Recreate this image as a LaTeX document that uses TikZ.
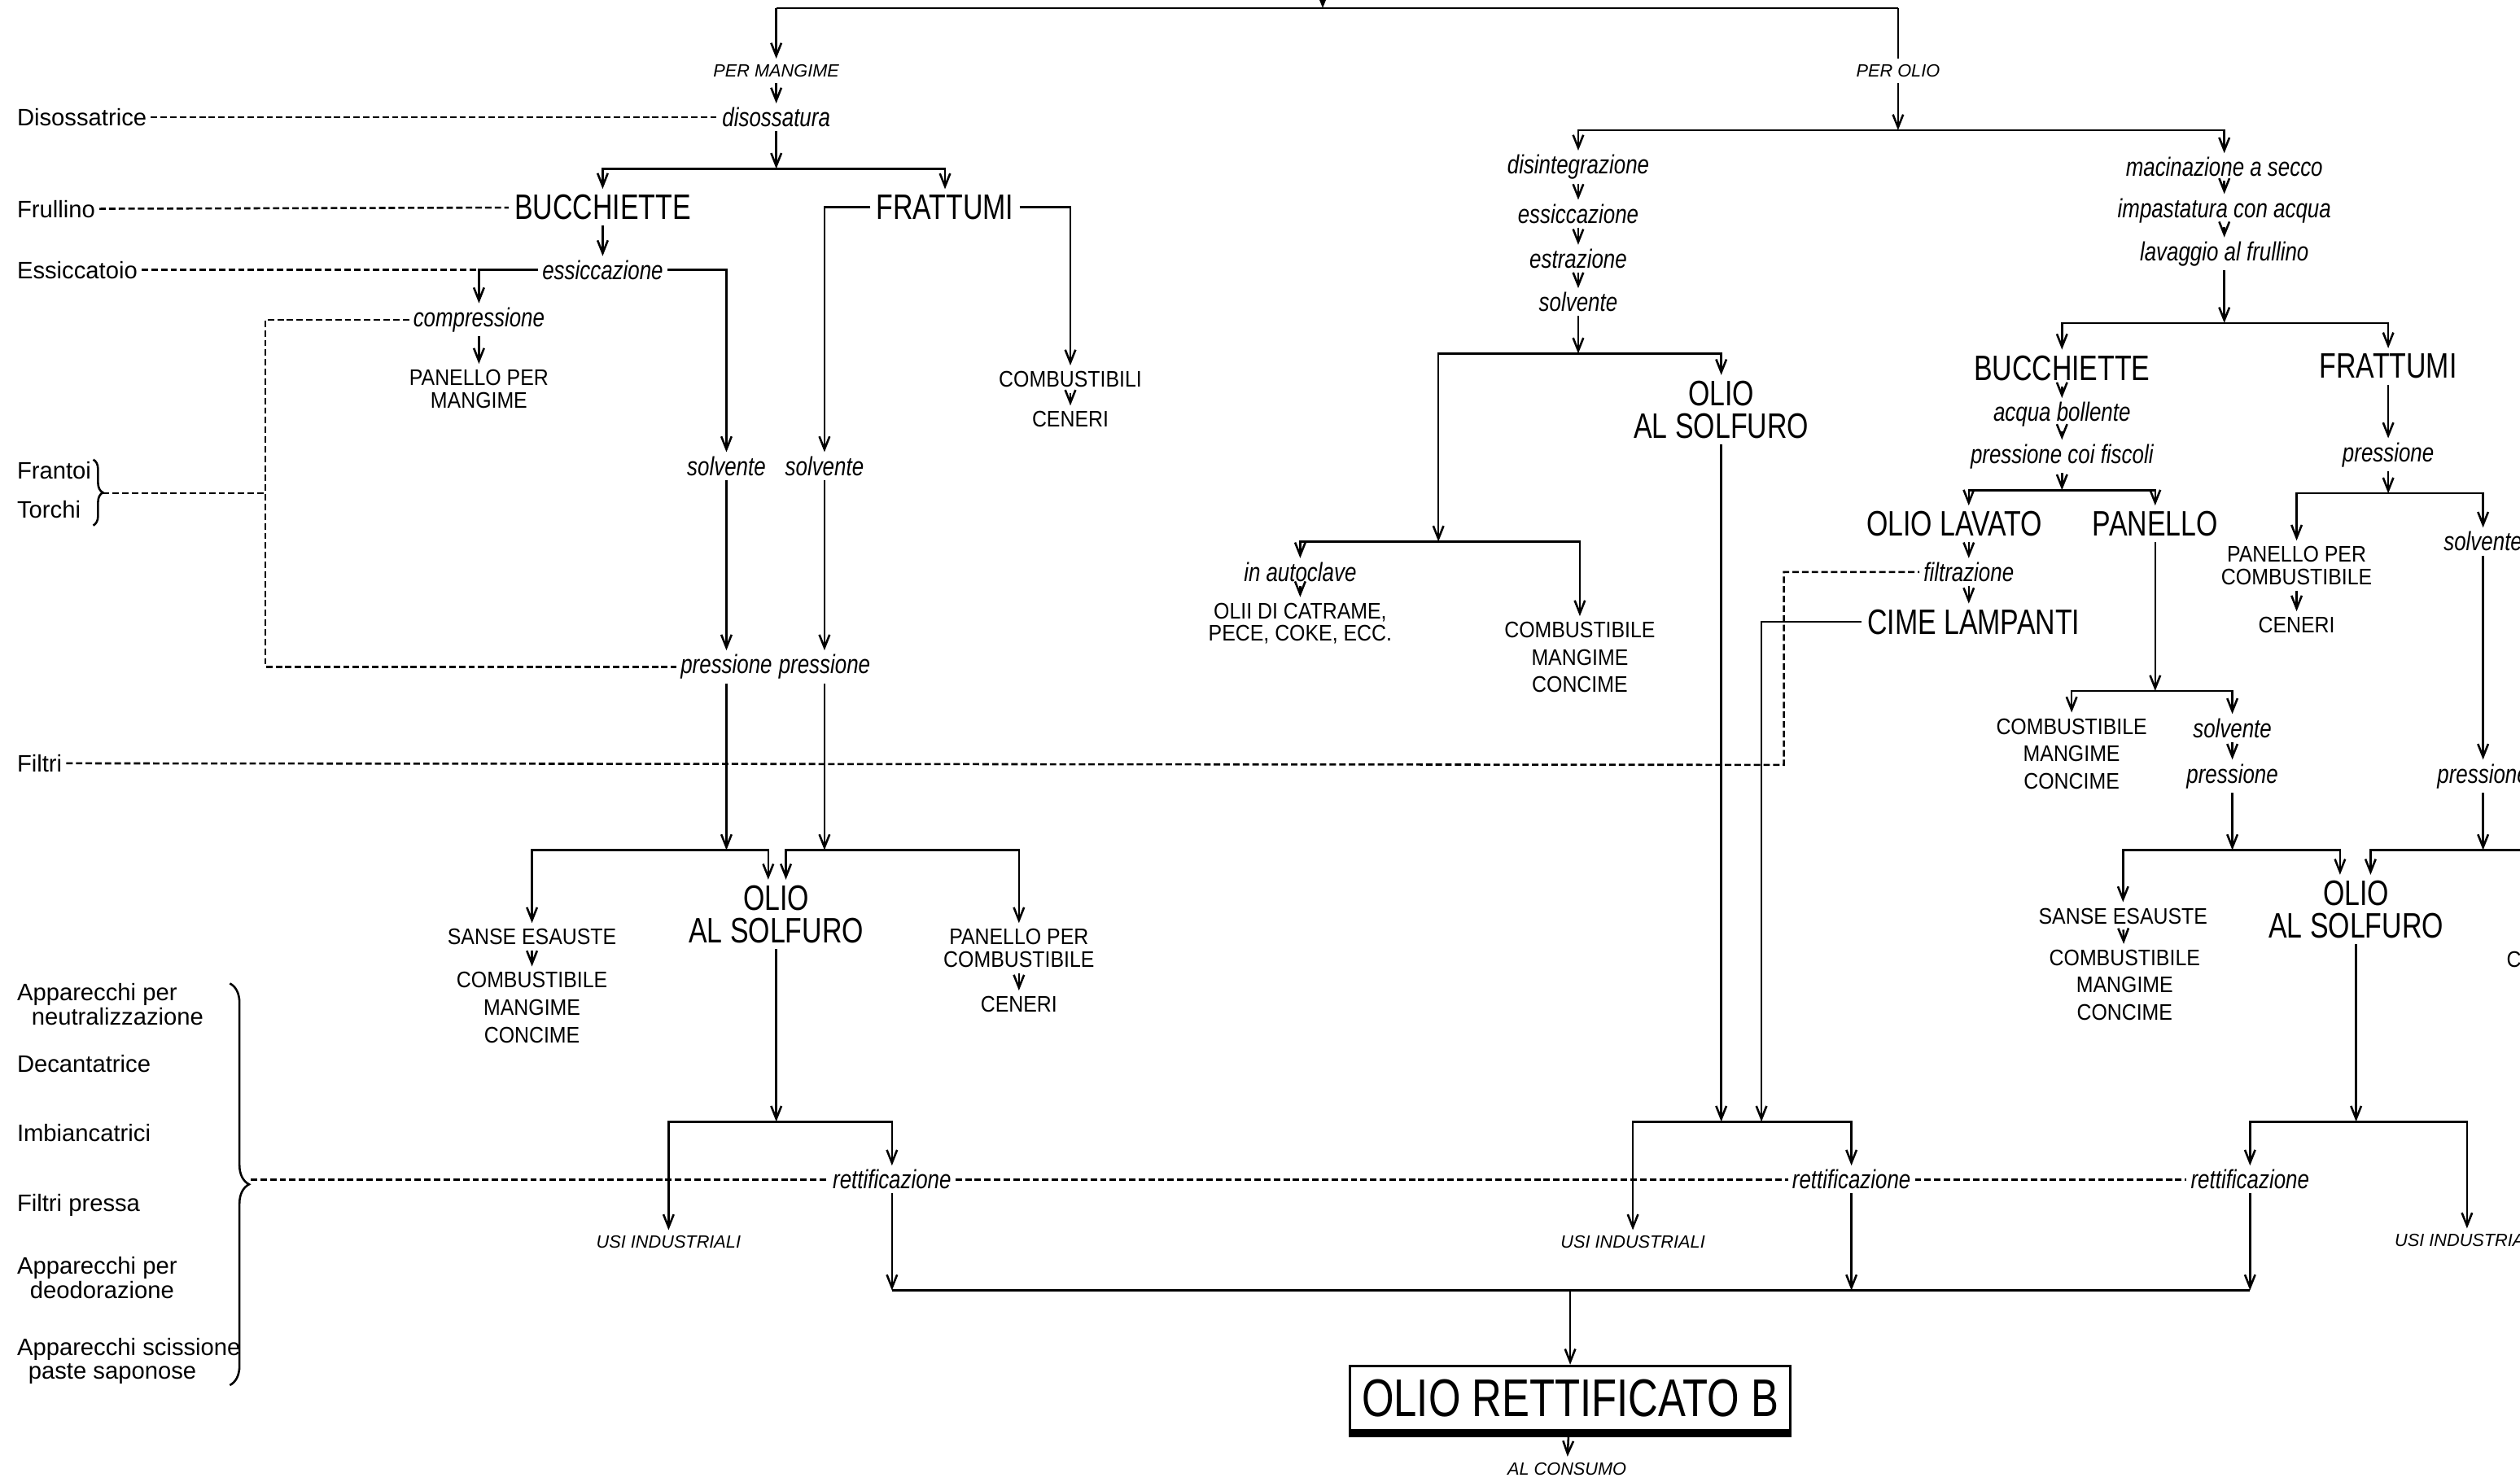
\documentclass[tikz,border=0pt]{standalone}
\usepackage{fontspec}
\setmainfont{Liberation Sans}
\newfontfamily\narrowfont{Liberation Sans}[FakeStretch=0.78]
\newfontfamily\midfont{Liberation Sans}[FakeStretch=0.9]
\newfontfamily\opfont{Liberation Sans}[FakeStretch=0.8]
\usetikzlibrary{arrows.meta, calc, decorations.pathreplacing}

\begin{document}
\begin{tikzpicture}[
    x=0.5pt, y=-0.5pt,
    line width=0.65pt,
    bigtxt/.style   = {font=\narrowfont\fontsize{11}{10.2}\selectfont, align=center, inner sep=1.5pt},
    prodtxt/.style  = {font=\midfont\fontsize{7}{7}\selectfont, align=center, inner sep=1.5pt},
    prodxtxt/.style = {font=\midfont\fontsize{7}{8.5}\selectfont, align=center, inner sep=1.5pt},
    optxt/.style    = {font=\opfont\itshape\fontsize{8.2}{9}\selectfont, inner sep=1pt},
    tagtxt/.style   = {font=\itshape\fontsize{5.5}{6}\selectfont, inner sep=1.5pt},
    devtxt/.style   = {font=\fontsize{7.4}{7.5}\selectfont, anchor=west, align=left, inner sep=1pt},
    flow/.style     = {-{Straight Barb[length=4pt,width=3.2pt]}},
    aux/.style      = {dash pattern=on 2pt off 1pt},
    brc/.style      = {decorate, decoration={brace, amplitude=#1}}
]
\useasboundingbox (0,0) rectangle (1568,922);
\clip (0,0) rectangle (1568,922);

% --- Apparecchiature ---
\node[devtxt] (dis) at (8,73) {Disossatrice};
\node[devtxt] (fru) at (8,130) {Frullino};
\node[devtxt] (esc) at (8,168) {Essiccatoio};
\node[devtxt] (frt) at (8,293) {Frantoi};
\node[devtxt] (tor) at (8,317) {Torchi};
\node[devtxt] (fil) at (8,475) {Filtri};
\node[devtxt] (apn) at (8,625) {Apparecchi per\\\hspace*{4.5pt}neutralizzazione};
\node[devtxt] (dec) at (8,662) {Decantatrice};
\node[devtxt] (imb) at (8,705) {Imbiancatrici};
\node[devtxt] (fip) at (8,750) {Filtri pressa};
\node[devtxt] (apd) at (8,795) {Apparecchi per\\\hspace*{4pt}deodorazione};
\node[devtxt] (aps) at (8,847) {Apparecchi scissione\\\hspace*{3.5pt}paste saponose};

% --- Ingresso ---
\coordinate (ingr) at (823,-6);
\coordinate (top) at (823,5);
\coordinate (tl) at (483,5);
\coordinate (tr) at (1181,5);

% --- Ramo per mangime ---
\node[tagtxt] (perm) at (483,44) {PER MANGIME};
\node[optxt] (diss) at (483,73) {disossatura};
\coordinate (j1) at (483,105);
\node[bigtxt] (buc1) at (375,129) {BUCCHIETTE};
\node[bigtxt] (fra1) at (588,129) {FRATTUMI};
\node[optxt] (ess1) at (375,168) {essiccazione};
\node[optxt] (comp) at (298,199) {compressione};
\node[prodtxt] (pman) at (298,242) {PANELLO PER\\MANGIME};
\node[prodtxt] (cmb1) at (666,236) {COMBUSTIBILI};
\node[prodtxt] (cen1) at (666,261) {CENERI};
\node[optxt] (sol1) at (452,290) {solvente};
\node[optxt] (sol2) at (513,290) {solvente};
\node[optxt] (prs1) at (452,415) {pressione};
\node[optxt] (prs2) at (513,415) {pressione};
\coordinate (j2a) at (452,529);
\coordinate (j2b) at (513,529);
\node[prodtxt] (san1) at (331,583) {SANSE ESAUSTE};
\node[prodxtxt] (csm1) at (331,627) {COMBUSTIBILE\\MANGIME\\CONCIME};
\node[bigtxt] (ols1) at (483,569) {OLIO\\AL SOLFURO};
\node[prodtxt] (pcb1) at (634,590) {PANELLO PER\\COMBUSTIBILE};
\node[prodtxt] (cen2) at (634,625) {CENERI};
\coordinate (j3) at (483,698);
\node[tagtxt] (usi1) at (416,773) {USI INDUSTRIALI};
\node[optxt] (ret1) at (555,734) {rettificazione};

% --- Ramo per olio: estrazione ---
\node[tagtxt] (pero) at (1181,44) {PER OLIO};
\coordinate (j4) at (1181,81);
\node[optxt] (disi) at (982,104) {disintegrazione};
\node[optxt] (ess2) at (982,133) {essiccazione};
\node[optxt] (estr) at (982,161) {estrazione};
\node[optxt] (sol3) at (982,188) {solvente};
\coordinate (j5) at (982,220);
\node[bigtxt] (ols2) at (1071,255) {OLIO\\AL SOLFURO};
\coordinate (j6) at (895,337);
\node[optxt] (auto) at (809,356) {in autoclave};
\node[prodtxt] (olii) at (809,388) {OLII DI CATRAME,\\PECE, COKE, ECC.};
\node[prodxtxt] (csm2) at (983,409) {COMBUSTIBILE\\MANGIME\\CONCIME};
\coordinate (j7) at (1071,698);
\coordinate (j7b) at (1096,698);
\node[tagtxt] (usi2) at (1016,773) {USI INDUSTRIALI};
\node[optxt] (ret2) at (1152,734) {rettificazione};

% --- Ramo per olio: macinazione ---
\node[optxt] (maci) at (1384,104) {macinazione a secco};
\node[optxt] (imp) at (1384,131) {impastatura con acqua};
\node[optxt] (lav) at (1384,158) {lavaggio al frullino};
\coordinate (j8) at (1384,201);
\node[bigtxt] (buc2) at (1283,229) {BUCCHIETTE};
\node[bigtxt] (fra2) at (1486,228) {FRATTUMI};
\node[optxt] (acq) at (1283,258) {acqua bollente};
\node[optxt] (fisc) at (1283,284) {pressione coi fiscoli};
\coordinate (j9) at (1283,305);
\node[bigtxt] (olav) at (1216,326) {OLIO LAVATO};
\node[bigtxt] (pan) at (1341,326) {PANELLO};
\node[optxt] (filt) at (1225,356) {filtrazione};
\node[bigtxt] (cime) at (1228,387) {CIME LAMPANTI};
\coordinate (fc) at (1110,476);
\coordinate (j10) at (1341,430);
\node[prodxtxt] (csm3) at (1289,469) {COMBUSTIBILE\\MANGIME\\CONCIME};
\node[optxt] (sol4) at (1389,453) {solvente};
\node[optxt] (prs3) at (1389,483) {pressione};
\coordinate (j11) at (1389,529);
\node[prodtxt] (san2) at (1321,570) {SANSE ESAUSTE};
\node[prodxtxt] (csm4) at (1322,613) {COMBUSTIBILE\\MANGIME\\CONCIME};
\node[bigtxt] (ols3) at (1466,566) {OLIO\\AL SOLFURO};
\node[optxt] (prs4) at (1486,283) {pressione};
\coordinate (j12) at (1486,307);
\node[prodtxt] (pcb2) at (1429,352) {PANELLO PER\\COMBUSTIBILE};
\node[prodtxt] (cen3) at (1429,389) {CENERI};
\node[optxt] (sol5) at (1545,337) {solvente};
\node[optxt] (prs5) at (1545,483) {pressione};
\coordinate (j13) at (1545,529);
\coordinate (bordo) at (1580,529);
\node[prodtxt, anchor=west] (cmb3) at (1556,597) {COMBUSTIBILE};
\coordinate (j14) at (1466,698);
\node[optxt] (ret3) at (1400,734) {rettificazione};
\node[tagtxt] (usi3) at (1535,772) {USI INDUSTRIALI};

% --- Prodotto finale ---
\coordinate (bot) at (977,803);
\node[draw, line width=0.8pt, font=\narrowfont\fontsize{16.5}{17}\selectfont, minimum width=137pt, minimum height=20pt, inner sep=2pt] (fin) at (977,870) {OLIO RETTIFICATO B};
\node[tagtxt] (cons) at (975,914) {AL CONSUMO};

% --- Frecce ---
\draw[flow] (ingr) -- (top);
\draw (tl) -- (tr);
\draw[flow] (tl) -- (perm);
\draw[flow] (perm) -- (diss);
\draw[flow] (diss) -- (j1);
\draw[flow] (j1) -| (buc1);
\draw[flow] (j1) -| (fra1);
\draw[flow] (buc1) -- (ess1);
\draw[flow] (ess1) -| (comp);
\draw[flow] (ess1) -| (sol1);
\draw[flow] (fra1) -| (sol2);
\draw[flow] (fra1) -| (cmb1);
\draw[flow] (cmb1) -- (cen1);
\draw[flow] (comp) -- (pman);
\draw[flow] (sol1) -- (prs1);
\draw[flow] (sol2) -- (prs2);
\draw[flow] (prs1) -- (j2a);
\draw[flow] (prs2) -- (j2b);
\draw[flow] (j2a) -| (san1);
\draw[flow] (j2a) -| ($(ols1.north)+(-5,0)$);
\draw[flow] (j2b) -| ($(ols1.north)+(6,0)$);
\draw[flow] (j2b) -| (pcb1);
\draw[flow] (san1) -- (csm1);
\draw[flow] (pcb1) -- (cen2);
\draw[flow] (ols1) -- (j3);
\draw[flow] (j3) -| (usi1);
\draw[flow] (j3) -| (ret1);
\draw[flow] (ret1) -- (ret1 |- bot);

\draw (tr) -- (pero);
\draw[flow] (pero) -- (j4);
\draw[flow] (j4) -| (disi);
\draw[flow] (j4) -| (maci);
\draw[flow] (disi) -- (ess2);
\draw[flow] (ess2) -- (estr);
\draw[flow] (estr) -- (sol3);
\draw[flow] (sol3) -- (j5);
\draw[flow] (j5) -| (ols2);
\draw[flow] (j5) -| (j6);
\draw[flow] (j6) -| (auto);
\draw[flow] (j6) -| (csm2);
\draw[flow] (auto) -- (olii);
\draw[flow] (ols2) -- (j7);
\draw[flow] (cime) -| (j7b);
\draw[flow] (j7) -| (usi2);
\draw[flow] (j7) -| (ret2);
\draw[flow] (ret2) -- (ret2 |- bot);

\draw[flow] (maci) -- (imp);
\draw[flow] (imp) -- (lav);
\draw[flow] (lav) -- (j8);
\draw[flow] (j8) -| (buc2);
\draw[flow] (j8) -| (fra2);
\draw[flow] (buc2) -- (acq);
\draw[flow] (acq) -- (fisc);
\draw[flow] (fisc) -- (j9);
\draw[flow] (j9) -| (olav.north -| filt);
\draw[flow] (j9) -| (pan);
\draw[flow] (olav.south -| filt) -- (filt);
\draw[flow] (filt) -- (filt |- cime.north);
\draw[flow] (pan) -- (j10);
\draw[flow] (j10) -| (csm3);
\draw[flow] (j10) -| (sol4);
\draw[flow] (sol4) -- (prs3);
\draw[flow] (prs3) -- (j11);
\draw[flow] (j11) -| (san2);
\draw[flow] (j11) -| ($(ols3.north)+(-10,0)$);
\draw[flow] (san2) -- (csm4);
\draw[flow] (fra2) -- (prs4);
\draw[flow] (prs4) -- (j12);
\draw[flow] (j12) -| (pcb2);
\draw[flow] (j12) -| (sol5);
\draw[flow] (pcb2) -- (cen3);
\draw[flow] (sol5) -- (prs5);
\draw[flow] (prs5) -- (j13);
\draw[flow] (j13) -| ($(ols3.north)+(9,0)$);
\draw (j13) -- (bordo);
\draw[flow] (ols3) -- (j14);
\draw[flow] (j14) -| (ret3);
\draw[flow] (j14) -| (usi3);
\draw[flow] (ret3) -- (ret3 |- bot);

\draw (ret1 |- bot) -- (ret3 |- bot);
\draw[flow] (bot) -- (fin);
\draw[line width=2.2pt] ([yshift=-0.6pt]fin.south west) -- ([yshift=-0.6pt]fin.south east);
\draw[flow] (fin) -- (cons);

% --- Collegamenti alle apparecchiature ---
\draw[aux] (dis) -- (diss);
\draw[aux] (fru) -- (buc1);
\draw[aux] (esc) -- (ess1);
\coordinate (kc) at (165,307);
\draw[aux] (comp) -| (kc) |- (prs1);
\draw[brc=3pt] (58,286) -- (58,327);
\coordinate (kb) at (64,307);
\draw[aux] (kb) -- (kc);
\draw[aux] (fil) -- (fc) |- (filt);
\draw[brc=6pt] (143,612) -- (143,862);
\coordinate (kr) at (156,734);
\draw[aux] (kr) -- (ret1);
\draw[aux] (ret1) -- (ret2);
\draw[aux] (ret2) -- (ret3);

\end{tikzpicture}
\end{document}
